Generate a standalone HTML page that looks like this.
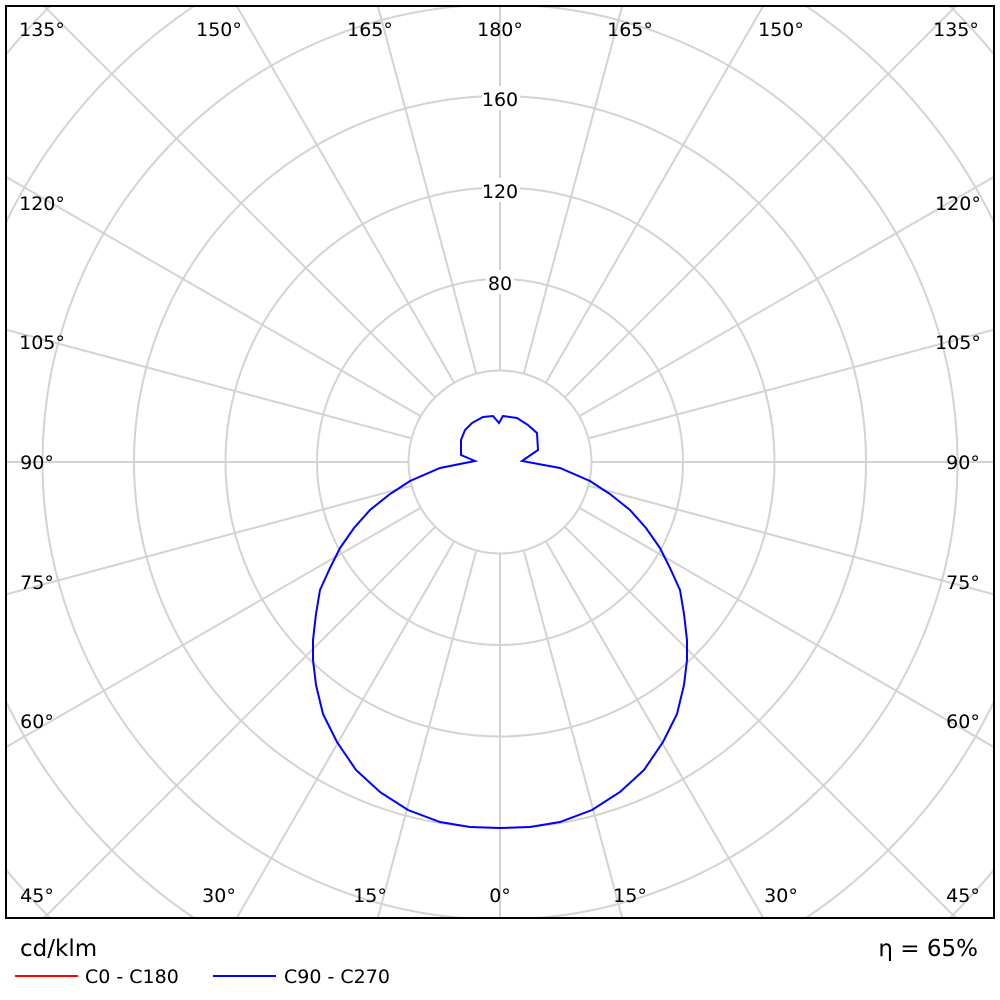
<!DOCTYPE html><html><head><style>html,body{margin:0;background:#fff;overflow:hidden;width:1000px;height:1000px}svg{display:block}</style></head><body>
<svg width="1000" height="1000" xmlns="http://www.w3.org/2000/svg" font-family="DejaVu Sans, Liberation Sans, sans-serif">
<defs><clipPath id="c"><rect x="6" y="6" width="988" height="912"/></clipPath></defs>
<g clip-path="url(#c)" stroke="#d3d3d3" stroke-width="2" fill="none">
<circle cx="500" cy="462" r="91.5"/><circle cx="500" cy="462" r="183"/><circle cx="500" cy="462" r="274.5"/><circle cx="500" cy="462" r="366"/><circle cx="500" cy="462" r="457.5"/><circle cx="500" cy="462" r="549"/><circle cx="500" cy="462" r="640.5"/>
<line x1="591.5" y1="462" x2="1400" y2="462" transform="rotate(0 500 462)"/>
<line x1="591.5" y1="462" x2="1400" y2="462" transform="rotate(15 500 462)"/>
<line x1="591.5" y1="462" x2="1400" y2="462" transform="rotate(30 500 462)"/>
<line x1="591.5" y1="462" x2="1400" y2="462" transform="rotate(45 500 462)"/>
<line x1="591.5" y1="462" x2="1400" y2="462" transform="rotate(60 500 462)"/>
<line x1="591.5" y1="462" x2="1400" y2="462" transform="rotate(75 500 462)"/>
<line x1="591.5" y1="462" x2="1400" y2="462" transform="rotate(90 500 462)"/>
<line x1="591.5" y1="462" x2="1400" y2="462" transform="rotate(105 500 462)"/>
<line x1="591.5" y1="462" x2="1400" y2="462" transform="rotate(120 500 462)"/>
<line x1="591.5" y1="462" x2="1400" y2="462" transform="rotate(135 500 462)"/>
<line x1="591.5" y1="462" x2="1400" y2="462" transform="rotate(150 500 462)"/>
<line x1="591.5" y1="462" x2="1400" y2="462" transform="rotate(165 500 462)"/>
<line x1="591.5" y1="462" x2="1400" y2="462" transform="rotate(180 500 462)"/>
<line x1="591.5" y1="462" x2="1400" y2="462" transform="rotate(195 500 462)"/>
<line x1="591.5" y1="462" x2="1400" y2="462" transform="rotate(210 500 462)"/>
<line x1="591.5" y1="462" x2="1400" y2="462" transform="rotate(225 500 462)"/>
<line x1="591.5" y1="462" x2="1400" y2="462" transform="rotate(240 500 462)"/>
<line x1="591.5" y1="462" x2="1400" y2="462" transform="rotate(255 500 462)"/>
<line x1="591.5" y1="462" x2="1400" y2="462" transform="rotate(270 500 462)"/>
<line x1="591.5" y1="462" x2="1400" y2="462" transform="rotate(285 500 462)"/>
<line x1="591.5" y1="462" x2="1400" y2="462" transform="rotate(300 500 462)"/>
<line x1="591.5" y1="462" x2="1400" y2="462" transform="rotate(315 500 462)"/>
<line x1="591.5" y1="462" x2="1400" y2="462" transform="rotate(330 500 462)"/>
<line x1="591.5" y1="462" x2="1400" y2="462" transform="rotate(345 500 462)"/>
</g>
<g font-size="19" fill="#000" text-anchor="middle">
<rect x="482" y="86" width="38" height="24" fill="#fff"/><text x="500" y="106">160</text>
<rect x="482" y="178" width="38" height="24" fill="#fff"/><text x="500" y="198">120</text>
<rect x="486" y="270" width="28" height="24" fill="#fff"/><text x="500" y="290">80</text>
<text x="42" y="36">135°</text><text x="219" y="36">150°</text><text x="370" y="36">165°</text><text x="500" y="36">180°</text><text x="630" y="36">165°</text><text x="781" y="36">150°</text><text x="956" y="36">135°</text>
<text x="42" y="210">120°</text><text x="958" y="210">120°</text>
<text x="42" y="349">105°</text><text x="958" y="349">105°</text>
<text x="37" y="469">90°</text><text x="963" y="469">90°</text>
<text x="37" y="589">75°</text><text x="963" y="589">75°</text>
<text x="37" y="728">60°</text><text x="963" y="728">60°</text>
<text x="37" y="902">45°</text><text x="219" y="902">30°</text><text x="370" y="902">15°</text><text x="500" y="902">0°</text><text x="630" y="902">15°</text><text x="781" y="902">30°</text><text x="963" y="902">45°</text>
</g>
<rect x="6" y="6" width="988" height="912" fill="none" stroke="#000" stroke-width="2"/>
<path fill="none" stroke="#00f" stroke-width="2" d="M500,828 L470,827 L440,822 L408,810 L380,792 L356,770 L337,742 L323,714 L316,685 L313,660 L313,640 L316,614 L320,590 L330,568 L340,548 L354,528 L370,510 L390,494 L410,481 L440,468 L475,461 L461,455 L461,440 L465,430 L472,423 L483,417 L493,416 L499,423 L503,416 L517,418 L528,425 L537,433 L538,450 L522,461 L560,468 L590,481 L610,494 L630,510 L646,528 L660,548 L670,568 L680,590 L684,614 L687,640 L687,660 L684,685 L677,714 L663,742 L644,770 L620,792 L592,810 L560,822 L530,827 Z"/>
<g font-size="23" fill="#000"><text x="20" y="956">cd/klm</text><text x="978" y="956" text-anchor="end">η = 65%</text></g>
<line x1="15" y1="976" x2="78" y2="976" stroke="#f00" stroke-width="2"/>
<line x1="213" y1="976" x2="276" y2="976" stroke="#00f" stroke-width="2"/>
<g font-size="19" fill="#000"><text x="85" y="983">C0 - C180</text><text x="284" y="983">C90 - C270</text></g>
</svg></body></html>
